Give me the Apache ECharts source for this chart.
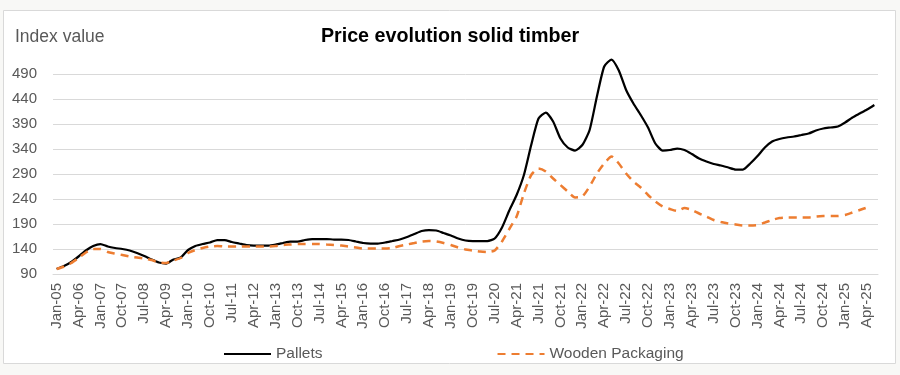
<!DOCTYPE html>
<html style="height: 100%;margin: 0;padding: 0;">
<head>
    <meta charset="utf-8">
    <title>Price evolution solid timber</title>
    <script src="https://cdn.jsdelivr.net/npm/echarts@6/dist/echarts.min.js"></script>
</head>
<body style="margin:0;padding:0;background:#f8f8f6;">
<div id="main" style="width:900px;height:375px;"></div>
<script type="text/javascript">
// x categories: two early points, quarterly Apr-06..Jan-21, monthly Apr-21..May-25
var monthNames = ['Jan','Feb','Mar','Apr','May','Jun','Jul','Aug','Sep','Oct','Nov','Dec'];
function lab(y, m) { return monthNames[m] + '-' + String(y).slice(2); }
var categories = ['Jan-05', 'May-05', 'Oct-05'];
(function () {
    var y = 2006, m = 3;
    while (!(y == 2021 && m == 3)) {
        categories.push(lab(y, m));
        m += 3; if (m > 11) { m -= 12; y++; }
    }
    while (!(y == 2025 && m == 5)) {
        categories.push(lab(y, m));
        m += 1; if (m > 11) { m -= 12; y++; }
    }
})();

var pallets = [
    100, 106, 114, 125, 137, 146, 150, 145, 142, 140,
    137, 132, 126, 119, 113, 111, 119, 123, 138, 146,
    150, 153, 158, 158, 154, 151, 148, 147, 147, 147,
    149, 152, 155, 155, 158, 160, 160, 160, 159, 159,
    158, 155, 152, 151, 151, 153, 156, 159, 164, 170,
    176, 178, 177, 172, 167, 161, 157, 156, 156, 156,
    161, 183, 217, 248, 288, 348, 401, 413, 395, 361,
    343, 337, 348, 378, 445, 505, 519, 497, 458, 431,
    408, 383, 351, 337, 338, 341, 338, 330, 321, 315,
    310, 307, 303, 299, 299, 311, 326, 343, 355, 360,
    363, 365, 368, 371, 377, 381, 383, 385, 393, 403,
    411, 419, 428
];
var woodenPackaging = [
    100, 105, 112, 122, 133, 140, 140, 134, 131, 128,
    125, 123, 121, 118, 113, 112, 117, 122, 132, 138,
    142, 145, 146, 145, 145, 145, 145, 145, 145, 145,
    146, 148, 149, 150, 150, 150, 150, 149, 148, 147,
    145, 143, 141, 141, 141, 141, 142, 146, 149, 152,
    155, 156, 155, 152, 148, 143, 139, 137, 135, 134,
    137, 155, 180, 205, 251, 288, 301, 295, 281, 268,
    255, 243, 245, 265, 291, 311, 325, 311, 291, 275,
    263, 248, 235, 225, 220, 216, 222, 218, 211, 205,
    198, 194, 191, 189, 187, 187, 188, 193, 198, 202,
    203, 203, 203, 203, 205, 206, 206, 206, 208, 213,
    218, 223
];

var myChart = echarts.init(document.getElementById('main'));
var txt = '#595959';
var option = {
    animation: false,
    // frame of the chart area
    graphic: [{
        type: 'rect', z: -10, silent: true,
        shape: { x: 3.5, y: 10.5, width: 892, height: 353 },
        style: { fill: '#ffffff', stroke: '#d9d9d9', lineWidth: 1 }
    }],
    title: [{
        text: 'Price evolution solid timber',
        left: 'center', top: 22,
        textStyle: { fontFamily: 'Liberation Sans', fontSize: 19.7, fontWeight: 'bold', color: '#000' }
    }, {
        text: 'Index value',
        left: 10, top: 23,
        textStyle: { fontFamily: 'Liberation Sans', fontSize: 17.5, fontWeight: 'normal', color: txt }
    }],
    legend: {
        left: 218, top: 341,
        itemWidth: 47, itemHeight: 14, itemGap: 174,
        itemStyle: { opacity: 0, borderWidth: 0 },
        textStyle: { fontFamily: 'Liberation Sans', fontSize: 15.5, color: txt },
        data: ['Pallets', 'Wooden Packaging']
    },
    grid: { left: 53, right: 22, top: 59, bottom: 101 },
    xAxis: {
        type: 'category',
        data: categories,
        boundaryGap: true,
        axisLine: { lineStyle: { color: '#d9d9d9', width: 1 } },
        axisTick: { show: false },
        axisLabel: {
            interval: 2, rotate: 90, margin: 9,
            fontFamily: 'Liberation Sans', fontSize: 15, color: txt
        }
    },
    yAxis: {
        type: 'value',
        min: 90, max: 520, interval: 50,
        axisLine: { show: false },
        axisTick: { show: false },
        axisLabel: {
            margin: 16, showMaxLabel: false,
            fontFamily: 'Liberation Sans', fontSize: 15, color: txt
        },
        splitLine: { showMaxLine: false, lineStyle: { color: '#d9d9d9', width: 1 } }
    },
    series: [{
        name: 'Pallets',
        type: 'line',
        data: pallets,
        symbol: 'none',
        smooth: 0.2,
        itemStyle: { color: '#000000' },
        lineStyle: { color: '#000000', width: 2.25 }
    }, {
        name: 'Wooden Packaging',
        type: 'line',
        data: woodenPackaging,
        symbol: 'none',
        smooth: 0.2,
        itemStyle: { color: '#ed7d31' },
        lineStyle: { color: '#ed7d31', width: 2.5, type: [8, 6] }
    }]
};
myChart.setOption(option);
</script>
</body>
</html>
